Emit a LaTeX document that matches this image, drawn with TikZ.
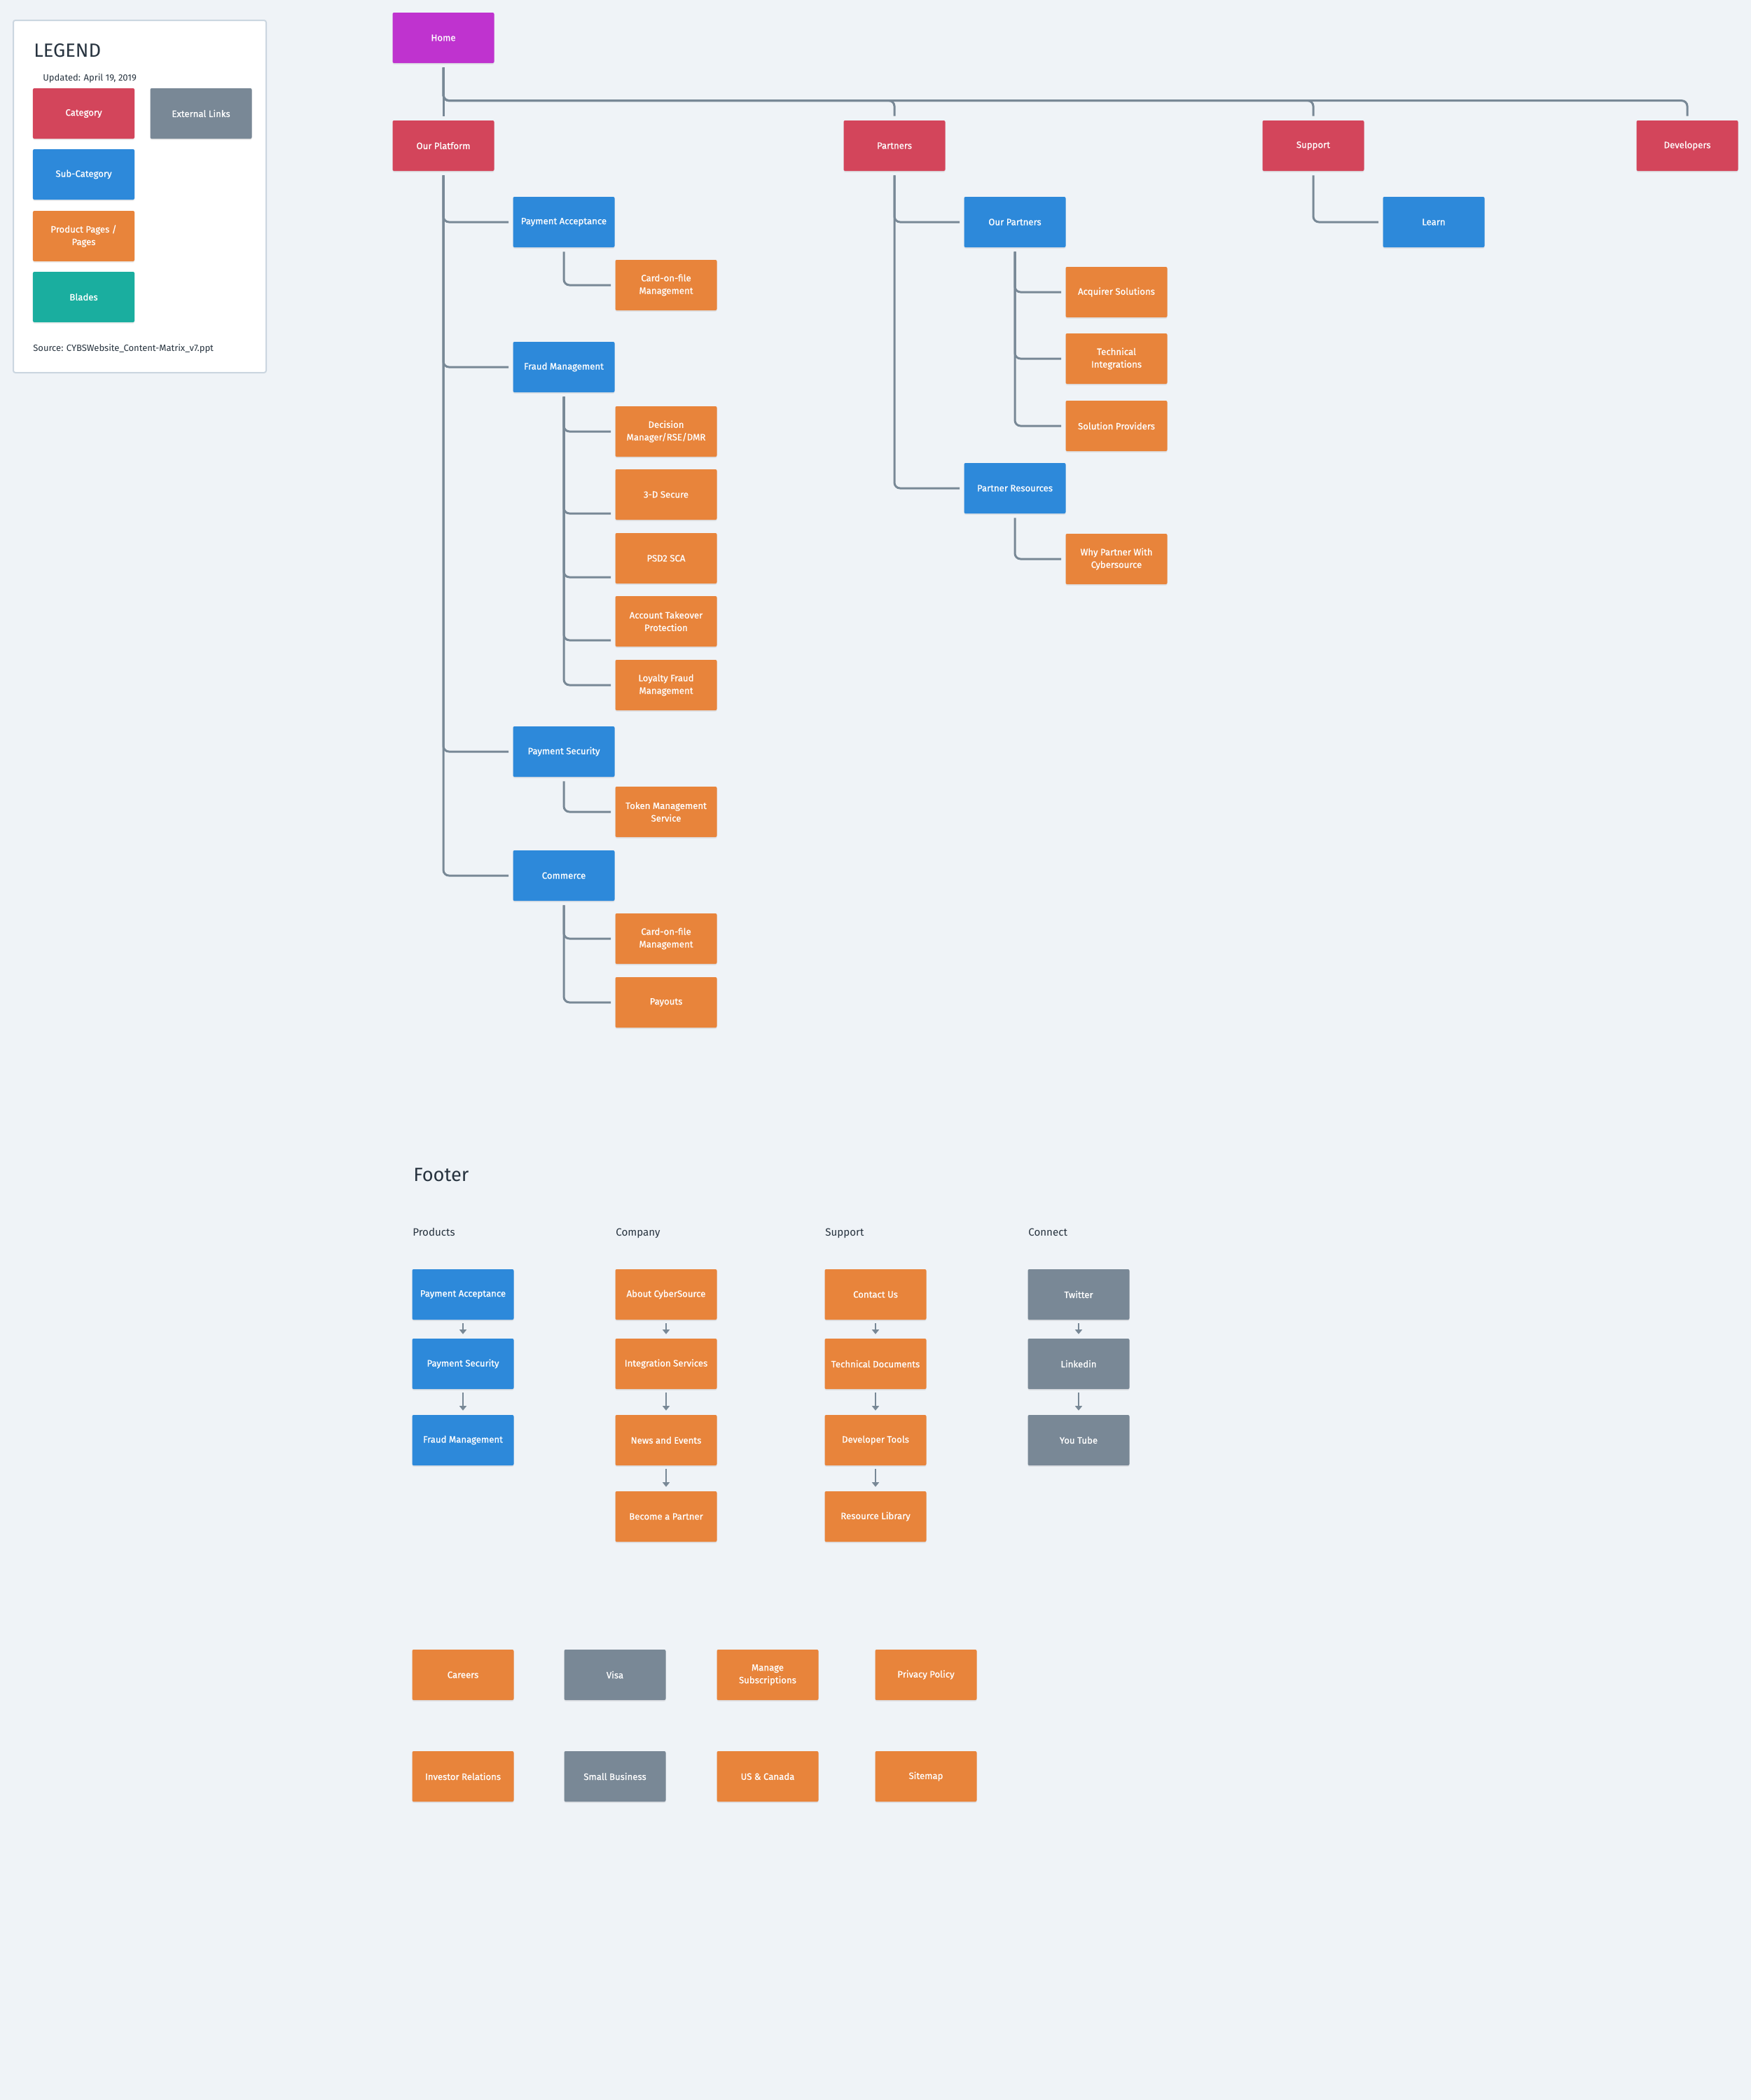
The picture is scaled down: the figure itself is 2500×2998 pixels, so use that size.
\documentclass[tikz,border=0pt]{standalone}
\usepackage{fontspec}
\setmainfont{Fira Sans}
\newfontfamily\boxfont{Fira Sans}[FakeBold=0.7]
\usetikzlibrary{arrows.meta,positioning,calc,shadows}
\definecolor{cybg}{HTML}{EFF3F7}
\definecolor{cyink}{HTML}{27333F}
\definecolor{cyframe}{HTML}{CBD6E0}
\definecolor{cymag}{HTML}{BF33CF}
\definecolor{cyred}{HTML}{D3455B}
\definecolor{cyblue}{HTML}{2D89DA}
\definecolor{cyorange}{HTML}{E8843B}
\definecolor{cygrey}{HTML}{798896}
\definecolor{cyteal}{HTML}{1AAE9F}
\definecolor{cyline}{HTML}{788896}
\tikzset{
  >={Triangle[length=1.3mm,width=2mm]},
  % lådor
  bx/.style={rectangle,rounded corners=0.4mm,minimum width=29mm,minimum height=14.4mm,
             inner sep=0pt,align=center,text=white,font=\boxfont\fontsize{7.5}{10.2}\selectfont,
             drop shadow={shadow xshift=0mm,shadow yshift=-0.35mm,opacity=0.15}},
  hm/.style={bx,fill=cymag},
  cat/.style={bx,fill=cyred},
  sub/.style={bx,fill=cyblue},
  pg/.style={bx,fill=cyorange},
  ext/.style={bx,fill=cygrey},
  bl/.style={bx,fill=cyteal},
  % texter
  hd/.style={anchor=base west,inner sep=0pt,text=cyink},
  ttl/.style={hd,font=\fontsize{15.5}{18}\selectfont},
  col/.style={hd,font=\fontsize{8.6}{10}\selectfont},
  sm/.style={hd,font=\fontsize{7.4}{9}\selectfont},
  % linjer
  tl/.style={draw=cyline,line width=0.6mm,rounded corners=1.6mm,
             shorten <=1.2mm,shorten >=1.2mm},
  fa/.style={->,draw=cyline,line width=0.5mm,shorten <=1mm,shorten >=1.2mm},
}
\begin{document}
\begin{tikzpicture}[x=0.2mm,y=-0.2mm]
\fill[cybg] (0,0) rectangle (2500,2998);
\useasboundingbox (0,0) rectangle (2500,2998);
% legend
\draw[draw=cyframe,fill=white,line width=0.4mm,rounded corners=0.6mm] (19,29) rectangle (380,532);
\node[ttl] (legend) at (48,81) {LEGEND};
\node[sm] (upd) at (61,115) {Updated: April 19, 2019};
\node[cat] (lcat) at (119.5,162) {Category};
\node[ext] (lext) at (287,162) {External Links};
\node[sub] (lsub) at (119.5,249) {Sub-Category};
\node[pg] (lpg) at (119.5,337) {Product Pages /\\Pages};
\node[bl] (lbl) at (119.5,424) {Blades};
\node[sm] (src) at (47,501) {Source: CYBSWebsite\_Content-Matrix\_v7.ppt};
% träd
\node[hm] (home) at (633,54) {Home};
\node[cat] (plat) at (633,208) {Our Platform};
\node[cat] (partners) at (1277,208) {Partners};
\node[cat] (support) at (1875,208) {Support};
\node[cat] (dev) at (2409,208) {Developers};
\node[sub] (payacc) at (805,317) {Payment Acceptance};
\node[pg] (cofa) at (951,407) {Card-on-file\\Management};
\node[sub] (fraud) at (805,524) {Fraud Management};
\node[pg] (dm) at (951,616) {Decision\\Manager/RSE/DMR};
\node[pg] (tds) at (951,706) {3-D Secure};
\node[pg] (psd) at (951,797) {PSD2 SCA};
\node[pg] (ato) at (951,887) {Account Takeover\\Protection};
\node[pg] (loyal) at (951,978) {Loyalty Fraud\\Management};
\node[sub] (paysec) at (805,1073) {Payment Security};
\node[pg] (tms) at (951,1159) {Token Management\\Service};
\node[sub] (comm) at (805,1250) {Commerce};
\node[pg] (cofb) at (951,1340) {Card-on-file\\Management};
\node[pg] (payouts) at (951,1431) {Payouts};
\node[sub] (ourp) at (1449,317) {Our Partners};
\node[pg] (acq) at (1594,417) {Acquirer Solutions};
\node[pg] (techint) at (1594,512) {Technical\\Integrations};
\node[pg] (solprov) at (1594,608) {Solution Providers};
\node[sub] (pres) at (1449,697) {Partner Resources};
\node[pg] (why) at (1594,798) {Why Partner With\\Cybersource};
\node[sub] (learn) at (2047,317) {Learn};
\draw[tl] (home) -- (plat);
\foreach \c in {partners,support,dev}
  \draw[tl] (home.south) |- ($(\c.north)+(0,-28)$) -- (\c.north);
\foreach \c in {payacc,fraud,paysec,comm}
  \draw[tl] (plat.south) |- (\c.west);
\draw[tl] (payacc.south) |- (cofa.west);
\draw[tl] (fraud.south) |- (dm.west);
\foreach \c in {tds,psd,ato}
  \draw[tl] (fraud.south) |- ($(\c.west)+(0,27)$);
\draw[tl] (fraud.south) |- (loyal.west);
\draw[tl] (paysec.south) |- (tms.west);
\foreach \c in {cofb,payouts}
  \draw[tl] (comm.south) |- (\c.west);
\foreach \c in {ourp,pres}
  \draw[tl] (partners.south) |- (\c.west);
\foreach \c in {acq,techint,solprov}
  \draw[tl] (ourp.south) |- (\c.west);
\draw[tl] (pres.south) |- (why.west);
\draw[tl] (support.south) |- (learn.west);
% footer
\node[ttl] (footer) at (590,1686) {Footer};
\node[col] (hprod) at (589,1764) {Products};
\node[col] (hcomp) at (879,1764) {Company};
\node[col] (hsupp) at (1178,1764) {Support};
\node[col] (hconn) at (1468,1764) {Connect};
\node[sub] (fpa) at (661,1848) {Payment Acceptance};
\node[sub] (fps) at (661,1947) {Payment Security};
\node[sub] (ffm) at (661,2056) {Fraud Management};
\node[pg] (fabout) at (951,1848) {About CyberSource};
\node[pg] (fint) at (951,1947) {Integration Services};
\node[pg] (fnews) at (951,2056) {News and Events};
\node[pg] (fbecome) at (951,2165) {Become a Partner};
\node[pg] (fcontact) at (1250,1848) {Contact Us};
\node[pg] (ftech) at (1250,1947) {Technical Documents};
\node[pg] (ftools) at (1250,2056) {Developer Tools};
\node[pg] (flib) at (1250,2165) {Resource Library};
\node[ext] (ftw) at (1540,1848) {Twitter};
\node[ext] (fli) at (1540,1947) {Linkedin};
\node[ext] (fyt) at (1540,2056) {You Tube};
\foreach \a/\b in {fpa/fps,fps/ffm,fabout/fint,fint/fnews,fnews/fbecome,
                   fcontact/ftech,ftech/ftools,ftools/flib,ftw/fli,fli/fyt}
  \draw[fa] (\a) -- (\b);
\node[pg] (careers) at (661,2391) {Careers};
\node[ext] (visa) at (878,2391) {Visa};
\node[pg] (manage) at (1096,2391) {Manage\\Subscriptions};
\node[pg] (privacy) at (1322,2391) {Privacy Policy};
\node[pg] (investor) at (661,2536) {Investor Relations};
\node[ext] (smallbiz) at (878,2536) {Small Business};
\node[pg] (uscan) at (1096,2536) {US \& Canada};
\node[pg] (sitemap) at (1322,2536) {Sitemap};
\end{tikzpicture}
\end{document}
